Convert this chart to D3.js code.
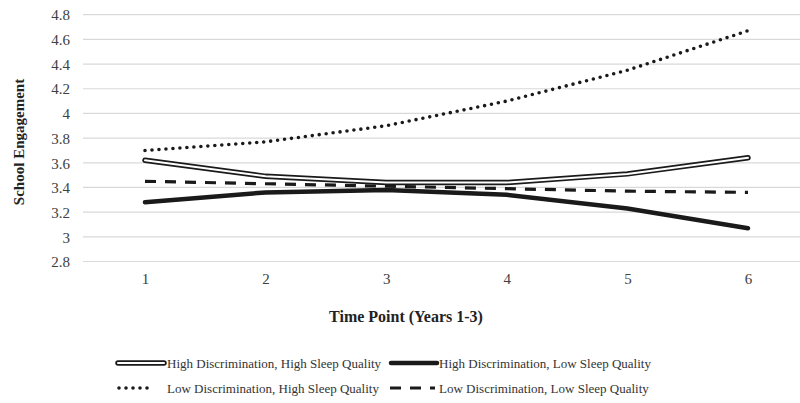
<!DOCTYPE html>
<html><head><meta charset="utf-8">
<script src="https://cdn.jsdelivr.net/npm/d3@7"></script>
<style>
html,body{margin:0;padding:0;background:#fff;overflow:hidden}
text{font-family:"Liberation Serif","Times New Roman",serif;fill:#222}
</style></head>
<body><svg id="c" width="800" height="403"></svg>
<script>
const timePoints = ["1","2","3","4","5","6"];
const yTicks = [2.8,3,3.2,3.4,3.6,3.8,4,4.2,4.4,4.6,4.8];
const seriesNames = ["High Discrimination, High Sleep Quality","High Discrimination, Low Sleep Quality","Low Discrimination, High Sleep Quality","Low Discrimination, Low Sleep Quality"];
const hdhs = [3.62,3.49,3.44,3.44,3.51,3.64];
const hdls = [3.28,3.36,3.38,3.34,3.23,3.07];
const ldhs = [3.70,3.77,3.90,4.10,4.35,4.67];
const ldls = [3.45,3.43,3.41,3.39,3.37,3.36];

const svg = d3.select("#c");
const x = d3.scalePoint().domain(timePoints).range([145,748]);
const y = d3.scaleLinear().domain([2.8,4.8]).range([261.5,14.7]);

// gridlines
svg.append("g").selectAll("line").data(yTicks).join("line")
  .attr("x1",83).attr("x2",810).attr("y1",d=>y(d)).attr("y2",d=>y(d))
  .attr("stroke","#d9d9d9").attr("stroke-width",1.2);

// y axis labels
const yAxis = d3.axisLeft(y).tickValues(yTicks).tickSize(0).tickPadding(0).tickFormat(d3.format("~g"));
const ya = svg.append("g").attr("transform","translate(70,0)").call(yAxis);
ya.select(".domain").remove();
ya.selectAll("text").style("font-size","15px").style("fill","#404040").attr("dy","0.35em");

// x axis labels
const xAxis = d3.axisBottom(x).tickSize(0).tickPadding(0);
const xa = svg.append("g").attr("transform","translate(0,279)").call(xAxis);
xa.select(".domain").remove();
xa.selectAll("text").style("font-size","15px").style("fill","#404040").attr("dy","0.35em");

// titles
svg.append("text").attr("transform","translate(24,142) rotate(-90)").attr("text-anchor","middle")
  .style("font-size","15px").attr("font-weight","bold").text("School Engagement");
svg.append("text").attr("x",406).attr("y",322).attr("text-anchor","middle")
  .style("font-size","16px").attr("font-weight","bold").text("Time Point (Years 1-3)");

const line = d3.line().x((d,i)=>x(timePoints[i])).y(d=>y(d));

function drawStyle(g, dAttr, style){
  if(style==="double"){
    g.append("path").attr("d",dAttr).attr("fill","none").attr("stroke","#1a1a1a").attr("stroke-width",5.5).attr("stroke-linecap","round");
    g.append("path").attr("d",dAttr).attr("fill","none").attr("stroke","#fff").attr("stroke-width",2).attr("stroke-linecap","round");
  } else if(style==="thick"){
    g.append("path").attr("d",dAttr).attr("fill","none").attr("stroke","#1a1a1a").attr("stroke-width",4.5).attr("stroke-linecap","round");
  } else if(style==="dot"){
    g.append("path").attr("d",dAttr).attr("fill","none").attr("stroke","#1a1a1a").attr("stroke-width",3.6).attr("stroke-linecap","round").attr("stroke-dasharray","0,7");
  } else if(style==="dash"){
    g.append("path").attr("d",dAttr).attr("fill","none").attr("stroke","#1a1a1a").attr("stroke-width",3.2).attr("stroke-dasharray","11,9");
  }
}
const seriesData = [hdhs,hdls,ldhs,ldls];
const styles = ["double","thick","dot","dash"];
const order = [3,2,1,0];
order.forEach(i=>{ drawStyle(svg.append("g"), line(seriesData[i]), styles[i]); });

// legend
const legPos = [[118,363,46],[391,363,46],[119,388,34],[390,388,45]];
const textX = [167,439,167,439];
seriesNames.forEach((n,i)=>{
  const [lx,ly,lw] = legPos[i];
  const g = svg.append("g");
  drawStyle(g, `M${lx},${ly}L${lx+lw},${ly}`, styles[i]);
  svg.append("text").attr("x",textX[i]).attr("y",ly).attr("dy","0.35em").style("font-size","13px").style("fill","#333").text(n);
});
</script></body></html>
